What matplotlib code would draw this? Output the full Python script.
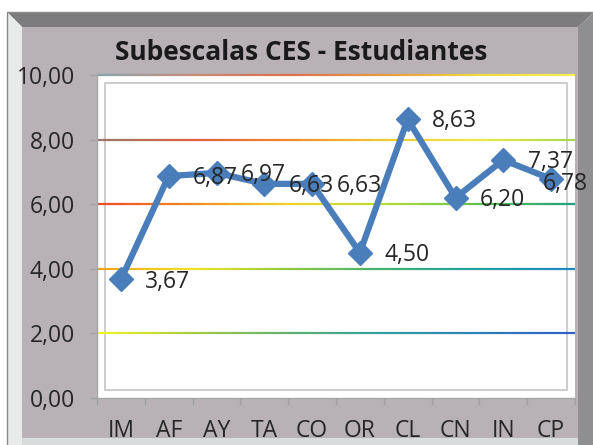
import numpy as np
import matplotlib
matplotlib.use("Agg")
import matplotlib.pyplot as plt
from matplotlib.collections import LineCollection
from matplotlib.colors import LinearSegmentedColormap
from matplotlib.patches import Polygon, Rectangle

categories = ["IM", "AF", "AY", "TA", "CO", "OR", "CL", "CN", "IN", "CP"]
values = [3.67, 6.87, 6.97, 6.63, 6.63, 4.50, 8.63, 6.20, 7.37, 6.78]
value_labels = ["3,67", "6,87", "6,97", "6,63", "6,63", "4,50", "8,63", "6,20", "7,37", "6,78"]
yticks = [0, 2, 4, 6, 8, 10]
ytick_labels = ["0,00", "2,00", "4,00", "6,00", "8,00", "10,00"]
title = "Subescalas CES - Estudiantes"

W, H = 593, 445
FONT = "Open Sans"

fig = plt.figure(figsize=(W / 100, H / 100), dpi=100)
fig.patch.set_facecolor("white")

# ---- background frame (pixel coords) ----
bg = fig.add_axes([0, 0, 1, 1], zorder=-5)
bg.set_xlim(0, W)
bg.set_ylim(H, 0)
bg.axis("off")
bg.add_patch(Rectangle((22, 27), 556, 420, facecolor="#b8b2b6", edgecolor="none"))
bg.add_patch(Polygon([(8, 13), (593, 13), (578, 27), (22, 27)], closed=True,
                     facecolor="#7c7c7e", edgecolor="none"))
bg.add_patch(Polygon([(8, 13), (22, 27), (22, 445), (8, 445)], closed=True,
                     facecolor="#e9eaea", edgecolor="none"))
bg.add_patch(Polygon([(578, 27), (593, 13), (593, 445), (578, 445)], closed=True,
                     facecolor="#8f8f92", edgecolor="none"))
bg.add_patch(Rectangle((22, 438), 556, 8, facecolor="#d9dcdc", edgecolor="none"))
bg.plot([7, 7, 593], [445, 12, 12], color="#8a8a8a", lw=1)

# ---- main axes ----
L, R, T, B = 97, 575, 75, 398
ax = fig.add_axes([L / W, 1 - B / H, (R - L) / W, (B - T) / H])
ax.set_facecolor("white")
ax.set_xlim(-0.5, len(categories) - 0.5)
ax.set_ylim(0, 10)

# inner border
ax.add_patch(Rectangle((8 / (R - L), 8 / (B - T)), 1 - 16 / (R - L), 1 - 16 / (B - T),
                       transform=ax.transAxes, facecolor="none", edgecolor="#c4c4c4",
                       lw=1.2, zorder=1))

grad_stops = {
    10: ["#86a4ab", "#c98a7a", "#d9704c", "#e79a3e", "#f0d840", "#f4f050"],
    8: ["#9c7468", "#e0603e", "#f08a30", "#f2c834", "#eee846", "#a8d850"],
    6: ["#ef4a22", "#f28a22", "#f4d428", "#b8dc38", "#60c050", "#20a07e"],
    4: ["#f0a020", "#f2e424", "#90c840", "#40b070", "#20a0a0", "#2088c0"],
    2: ["#f4f424", "#a8cc40", "#60b070", "#30a0a0", "#2c80b8", "#3060c8"],
}
xs = np.linspace(-0.5, len(categories) - 0.5, 300)
for yv, stops in grad_stops.items():
    cmap = LinearSegmentedColormap.from_list("g%d" % yv, stops)
    pts = np.column_stack([xs, np.full_like(xs, yv)])
    segs = np.stack([pts[:-1], pts[1:]], axis=1)
    lc = LineCollection(segs, colors=cmap(np.linspace(0, 1, len(segs))),
                        linewidths=1.6, zorder=2, clip_on=False,
                        capstyle="butt")
    ax.add_collection(lc)

x = np.arange(len(categories))
ax.plot(x, values, color="#4a7ebb", lw=4.5, marker="D", ms=12,
        markeredgecolor="#4a7ebb", zorder=5, clip_on=False,
        solid_joinstyle="miter")

for i, (v, lab) in enumerate(zip(values, value_labels)):
    last = i == len(values) - 1
    dx = -6 if last else 17.5
    dy = -3.5 if last else -1.5
    ax.annotate(lab, (x[i], v), xytext=(dx, dy), textcoords="offset points",
                ha="left", va="center", fontsize=16.5, family=FONT,
                color="#262626", zorder=6, annotation_clip=False)

for s in ["top", "right"]:
    ax.spines[s].set_visible(False)
for s in ["left", "bottom"]:
    ax.spines[s].set_color("#a8a8a8")
    ax.spines[s].set_linewidth(1)

ax.set_yticks(yticks)
ax.set_yticklabels(ytick_labels, fontsize=16.5, family=FONT, color="#262626")
ax.tick_params(axis="y", length=5, width=1, color="#a0a0a0", pad=11)

ax.set_xticks(np.arange(-0.5, len(categories), 1.0))
ax.set_xticklabels([])
ax.tick_params(axis="x", which="major", length=5, width=1, color="#a0a0a0")
ax.set_xticks(x, minor=True)
ax.set_xticklabels(categories, minor=True, fontsize=16.5, family=FONT, color="#262626")
ax.tick_params(axis="x", which="minor", length=0, pad=15)

fig.text(301 / W, 1 - 53 / H, title, ha="center", va="center", fontsize=19,
         fontweight="bold", family=FONT, color="#1a1a1a")

fig.savefig("out.png", dpi=100)
